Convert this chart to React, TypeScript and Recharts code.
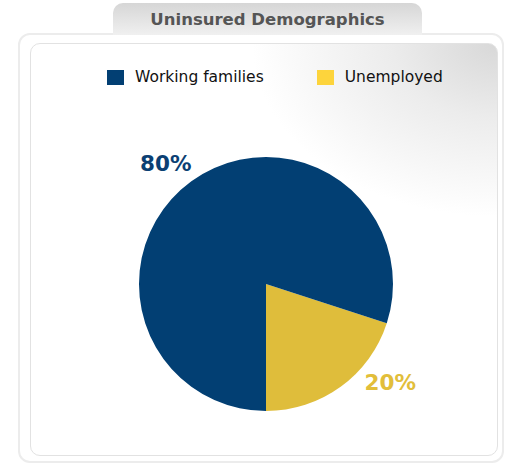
import { PieChart, Pie, Cell, Legend } from "recharts";

// data, drawn in pie order (yellow slice starts at 6 o'clock)
const categories = ["Unemployed", "Working families"];
const shares = [20, 80];
const sliceColors = ["#dfbd3b", "#023f73"];
const legendColors = ["#fdd43c", "#023f73"];
const labelColors = ["#e2be3a", "#0b3f73"];

const data = categories.map((name, i) => ({ name, value: shares[i] }));

// small nudges so the labels sit where the original puts them
const labelNudge: Record<string, [number, number]> = {
  Unemployed: [32, -29],
  "Working families": [-8, 7],
};

const RAD = Math.PI / 180;

function renderLabel(props: any) {
  const { cx, cy, midAngle, outerRadius, index, name, percent } = props;
  const r = outerRadius + 30;
  const [nx, ny] = labelNudge[name] || [0, 0];
  const x = cx + r * Math.cos(-midAngle * RAD) + nx;
  const y = cy + r * Math.sin(-midAngle * RAD) + ny;
  return (
    <text
      x={x}
      y={y}
      textAnchor="middle"
      dominantBaseline="central"
      fill={labelColors[index]}
      fontSize={21.5}
      fontWeight="bold"
      fontFamily="DejaVu Sans, Verdana, sans-serif"
    >
      {`${Math.round(percent * 100)}%`}
    </text>
  );
}

function LegendContent(props: any) {
  const items = [...(props.payload || [])].reverse();
  return (
    <div style={{ display: "flex", alignItems: "center", paddingLeft: 107 }}>
      {items.map((p: any) => {
        const i = categories.indexOf(p.value);
        return (
          <div
            key={p.value}
            style={{ display: "flex", alignItems: "center", marginRight: 53 }}
          >
            <span
              style={{
                display: "inline-block",
                width: 17,
                height: 15,
                background: legendColors[i],
                marginRight: 11,
              }}
            />
            <span style={{ fontSize: 15.5, color: "#111" }}>{p.value}</span>
          </div>
        );
      })}
    </div>
  );
}

export default function App() {
  return (
    <div
      style={{
        position: "absolute",
        left: 0,
        top: 0,
        width: 507,
        height: 466,
        background: "#fff",
        fontFamily: "DejaVu Sans, Verdana, sans-serif",
        overflow: "hidden",
      }}
    >
      <div
        style={{
          position: "absolute",
          left: 18,
          top: 33,
          width: 482,
          height: 426,
          border: "2px solid #ececec",
          borderRadius: 12,
          background: "#fff",
        }}
      />
      <div
        style={{
          position: "absolute",
          left: 113,
          top: 3,
          width: 309,
          height: 32,
          borderRadius: "10px 10px 0 0",
          background: "linear-gradient(#d6d6d6, #f0f0f0)",
          color: "#555",
          fontSize: 16.5,
          fontWeight: "bold",
          textAlign: "center",
          lineHeight: "34px",
        }}
      >
        Uninsured Demographics
      </div>
      <div
        style={{
          position: "absolute",
          left: 30,
          top: 43,
          width: 466,
          height: 411,
          border: "1px solid #e2e2e2",
          borderRadius: 10,
          background:
            "radial-gradient(ellipse 75% 60% at 100% 0%, #d8d8d8 0%, #ececec 30%, #ffffff 70%)",
        }}
      />
      <div style={{ position: "absolute", left: 0, top: 0 }}>
        <PieChart
          width={507}
          height={466}
          margin={{ top: 0, right: 0, bottom: 0, left: 0 }}
        >
          <Legend
            content={<LegendContent />}
            verticalAlign="middle"
            align="center"
            layout="horizontal"
            wrapperStyle={{ top: 68, left: 0, width: 507 }}
          />
          <Pie
            data={data}
            dataKey="value"
            nameKey="name"
            cx={266}
            cy={284}
            outerRadius={127}
            startAngle={-90}
            endAngle={270}
            stroke="none"
            label={renderLabel}
            labelLine={false}
            isAnimationActive={false}
          >
            {data.map((d, i) => (
              <Cell key={d.name} fill={sliceColors[i]} />
            ))}
          </Pie>
        </PieChart>
      </div>
    </div>
  );
}
